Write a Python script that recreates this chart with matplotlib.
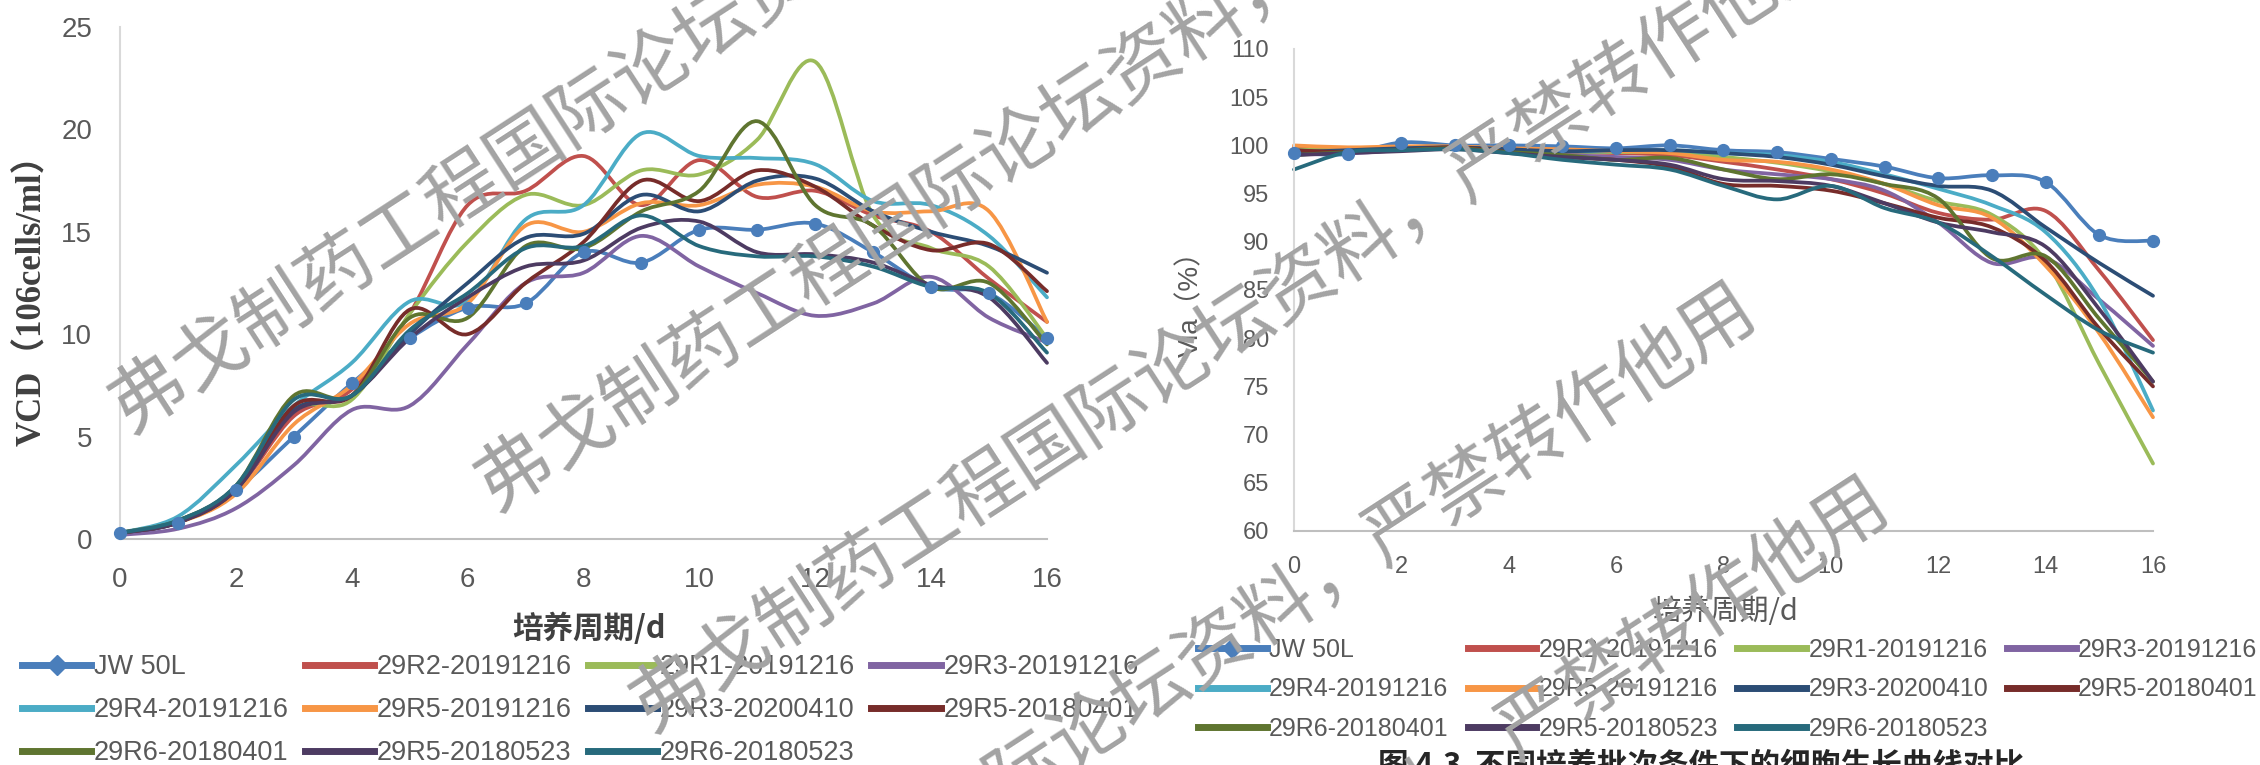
import matplotlib
matplotlib.use('Agg')
import matplotlib.pyplot as plt
from matplotlib.path import Path
from matplotlib.patches import PathPatch
from matplotlib.lines import Line2D

plt.rcParams['font.family'] = ['Liberation Sans', 'Noto Sans CJK SC', 'DejaVu Sans']

W, H = 2260, 765

# culture day
days = list(range(17))

names = ['JW 50L', '29R2-20191216', '29R1-20191216', '29R3-20191216',
         '29R4-20191216', '29R5-20191216', '29R3-20200410', '29R5-20180401',
         '29R6-20180401', '29R5-20180523', '29R6-20180523']
colors = ['#4a7ebb', '#c0504d', '#9bbb59', '#8064a2', '#4bacc6', '#f79646',
          '#2c4d75', '#772c2a', '#5f7530', '#4d3b62', '#276a7c']

# VCD (10^6 cells/ml)
vcd_jw = [0.3, 0.8, 2.4, 5.0, 7.6, 9.8, 11.3, 11.5, 14.0, 13.5, 15.1, 15.1, 15.4, 14.0, 12.3, 12.0, 9.8]
vcd_r2 = [0.3, 0.9, 2.4, 6.0, 7.3, 11.0, 16.3, 17.0, 18.7, 16.3, 18.5, 16.7, 17.0, 15.8, 15.0, 12.7, 10.6]
vcd_r1 = [0.3, 0.9, 2.5, 6.3, 6.8, 11.0, 14.5, 16.8, 16.3, 18.0, 17.8, 19.5, 23.3, 15.8, 14.2, 13.3, 9.8]
vcd_r3 = [0.2, 0.5, 1.5, 3.6, 6.3, 6.5, 9.5, 12.5, 13.0, 14.8, 13.3, 12.0, 10.9, 11.5, 12.8, 10.8, 9.6]
vcd_r4 = [0.3, 1.1, 3.6, 6.5, 8.6, 11.6, 11.6, 15.6, 16.3, 19.8, 18.7, 18.6, 18.3, 16.5, 16.3, 14.8, 11.8]
vcd_r5 = [0.3, 0.8, 2.2, 5.6, 7.5, 10.5, 11.5, 15.3, 15.0, 16.4, 16.3, 17.3, 17.2, 16.0, 16.0, 16.0, 10.6]
vcd_r3b = [0.3, 0.8, 2.5, 6.3, 7.0, 10.0, 12.5, 14.7, 14.9, 16.8, 16.0, 17.5, 17.6, 16.0, 15.0, 14.3, 13.0]
vcd_r5a = [0.3, 0.8, 2.4, 6.5, 7.0, 11.2, 10.0, 12.5, 14.5, 17.5, 16.5, 18.0, 17.2, 15.3, 14.1, 14.4, 12.1]
vcd_r6a = [0.3, 0.9, 2.6, 7.0, 7.0, 10.8, 10.8, 14.3, 14.2, 16.0, 17.0, 20.4, 16.3, 15.3, 12.3, 12.5, 9.5]
vcd_r5b = [0.3, 0.8, 2.4, 6.2, 7.0, 9.8, 11.8, 13.3, 13.6, 15.2, 15.5, 14.0, 13.9, 13.5, 12.4, 11.8, 8.6]
vcd_r6b = [0.3, 0.9, 2.6, 6.8, 7.0, 10.2, 12.0, 14.2, 14.3, 15.8, 14.3, 13.8, 13.8, 13.3, 12.3, 12.0, 9.1]

# viability (%)
via_jw = [99.2, 99.1, 100.3, 100.0, 100.0, 99.9, 99.7, 100.0, 99.5, 99.3, 98.6, 97.8, 96.6, 96.9, 96.2, 90.7, 90.1]
via_r2 = [99.8, 99.5, 99.6, 99.8, 99.5, 99.3, 99.2, 99.0, 98.3, 97.5, 96.5, 95.0, 93.0, 92.3, 93.2, 87.0, 79.8]
via_r1 = [99.6, 99.5, 99.7, 99.8, 99.6, 99.4, 99.3, 99.3, 98.8, 98.2, 97.3, 96.0, 94.2, 92.8, 88.0, 77.3, 67.0]
via_r3 = [99.5, 99.2, 99.5, 99.7, 99.3, 99.0, 98.8, 98.5, 97.5, 97.0, 96.5, 95.3, 92.0, 87.8, 88.3, 84.0, 79.2]
via_r4 = [99.0, 99.4, 99.7, 99.8, 99.6, 99.4, 99.4, 99.5, 99.2, 99.0, 98.3, 97.0, 95.5, 93.8, 91.0, 84.0, 72.5]
via_r5 = [100.0, 99.8, 99.9, 99.9, 99.7, 99.6, 99.4, 99.2, 98.5, 98.3, 97.5, 96.0, 93.8, 92.5, 87.5, 80.5, 71.8]
via_r3b = [99.3, 99.5, 99.7, 99.8, 99.6, 99.4, 99.5, 99.5, 99.2, 98.8, 98.0, 96.8, 95.8, 95.3, 91.5, 87.8, 84.4]
via_r5a = [99.5, 99.3, 99.5, 99.8, 99.3, 98.8, 98.5, 97.8, 96.0, 95.8, 95.3, 94.0, 92.5, 91.5, 88.0, 81.0, 75.0]
via_r6a = [99.0, 99.3, 99.5, 99.7, 99.3, 99.0, 98.5, 98.7, 97.5, 96.5, 97.0, 96.0, 94.5, 88.3, 88.5, 82.0, 75.5]
via_r5b = [99.0, 99.2, 99.4, 99.6, 99.2, 98.8, 98.5, 98.0, 96.5, 96.3, 95.8, 94.0, 92.0, 91.0, 89.5, 83.0, 75.5]
via_r6b = [97.5, 99.3, 99.5, 99.6, 99.2, 98.5, 98.0, 97.5, 95.8, 94.4, 95.8, 93.5, 92.0, 88.5, 84.5, 80.8, 78.5]

vcd_all = [vcd_jw, vcd_r2, vcd_r1, vcd_r3, vcd_r4, vcd_r5, vcd_r3b, vcd_r5a, vcd_r6a, vcd_r5b, vcd_r6b]
via_all = [via_jw, via_r2, via_r1, via_r3, via_r4, via_r5, via_r3b, via_r5a, via_r6a, via_r5b, via_r6b]

watermark = '弗戈制药工程国际论坛资料，严禁转作他用'
caption = '图 4.3  不同培养批次条件下的细胞生长曲线对比'


def smooth_path(xs, ys):
    # excel-like smoothed line: catmull-rom converted to cubic bezier
    n = len(xs)
    verts = [(xs[0], ys[0])]
    codes = [Path.MOVETO]
    for i in range(n - 1):
        a = max(i - 1, 0)
        b = min(i + 2, n - 1)
        c1 = (xs[i] + (xs[i + 1] - xs[a]) / 6, ys[i] + (ys[i + 1] - ys[a]) / 6)
        c2 = (xs[i + 1] - (xs[b] - xs[i]) / 6, ys[i + 1] - (ys[b] - ys[i]) / 6)
        verts += [c1, c2, (xs[i + 1], ys[i + 1])]
        codes += [Path.CURVE4] * 3
    return Path(verts, codes)


fig = plt.figure(figsize=(W / 100, H / 100), dpi=100)


def axes_px(left, top, right, bottom):
    return fig.add_axes([left / W, 1 - bottom / H, (right - left) / W, (bottom - top) / H])


def draw_panel(ax, series, ylim, ystep, fs, pad):
    for vals, col in zip(series, colors):
        ax.add_patch(PathPatch(smooth_path(days, vals), fill=False, edgecolor=col,
                               lw=2.7, capstyle='round', joinstyle='round', clip_on=False))
    ax.plot(days, series[0], 'o', color=colors[0], ms=8.5, clip_on=False, zorder=5)
    ax.set_xlim(0, 16)
    ax.set_ylim(*ylim)
    ax.set_xticks(range(0, 17, 2))
    ax.set_yticks(range(ylim[0], ylim[1] + 1, ystep))
    for s in ['top', 'right']:
        ax.spines[s].set_visible(False)
    ax.spines['left'].set_color('#d9d9d9')
    ax.spines['bottom'].set_color('#bfbfbf')
    ax.spines['left'].set_linewidth(1.5)
    ax.spines['bottom'].set_linewidth(1.5)
    ax.tick_params(length=0, labelsize=fs, labelcolor='#595959', pad=pad)
    ax.patch.set_alpha(0)


def add_legend(ax, left, top, fs, hl, cs, ls):
    order = [0, 4, 8, 1, 5, 9, 2, 6, 10, 3, 7]
    handles = []
    for i in order:
        if i == 0:
            handles.append(Line2D([], [], color=colors[i], lw=5, marker='D', ms=10))
        else:
            handles.append(Line2D([], [], color=colors[i], lw=5))
    leg = ax.legend(handles, [names[i] for i in order], ncol=4, loc='upper left',
                    bbox_to_anchor=(left / W, 1 - top / H), bbox_transform=fig.transFigure,
                    frameon=False, borderpad=0, borderaxespad=0, fontsize=fs,
                    handlelength=hl, handletextpad=0.1, columnspacing=cs, labelspacing=ls)
    for t in leg.get_texts():
        t.set_color('#595959')


axL = axes_px(120, 27, 1047, 539)
draw_panel(axL, vcd_all, (0, 25), 5, 20, 20)
add_legend(axL, 22, 654, 19.5, 2.55, 0.6, 0.63)

axR = axes_px(1294, 49, 2153, 531)
draw_panel(axR, via_all, (60, 110), 5, 17, 18)
add_legend(axR, 1198, 638, 18, 2.75, 0.75, 0.62)

fig.text(32 / W, 1 - 292 / H, 'VCD（106cells/ml）', rotation=90, ha='center', va='center',
         fontsize=25, fontweight='bold', color='#404040',
         family=['Liberation Serif', 'Noto Sans CJK SC'])
fig.text(1191 / W, 1 - 297 / H, 'Via（%）', rotation=90, ha='center', va='center',
         fontsize=20, color='#595959')
fig.text(589 / W, 1 - 629 / H, '培养周期/d', ha='center', va='center', fontsize=22,
         fontweight='bold', color='#404040', family=['Noto Sans CJK SC'])
fig.text(1726 / W, 1 - 612 / H, '培养周期/d', ha='center', va='center', fontsize=21,
         color='#595959', family=['Noto Sans CJK SC'])
fig.text(1701 / W, 1 - 750 / H, caption, ha='center', va='top', fontsize=22,
         fontweight='bold', color='#262626', family=['Noto Sans CJK SC'])

# tiled watermark, centres of each stamp in pixels
wm_x = [715, 1081, 1236, 1152, 1285]
wm_y = [27, 105, 326, 690, 884]
for cx, cy in zip(wm_x, wm_y):
    fig.text(cx / W, 1 - cy / H, watermark, rotation=33, rotation_mode='anchor',
             ha='center', va='center', fontsize=54, color='#a3a3a3',
             family=['Noto Sans CJK SC'], zorder=20)

fig.savefig('out.png', dpi=100)
